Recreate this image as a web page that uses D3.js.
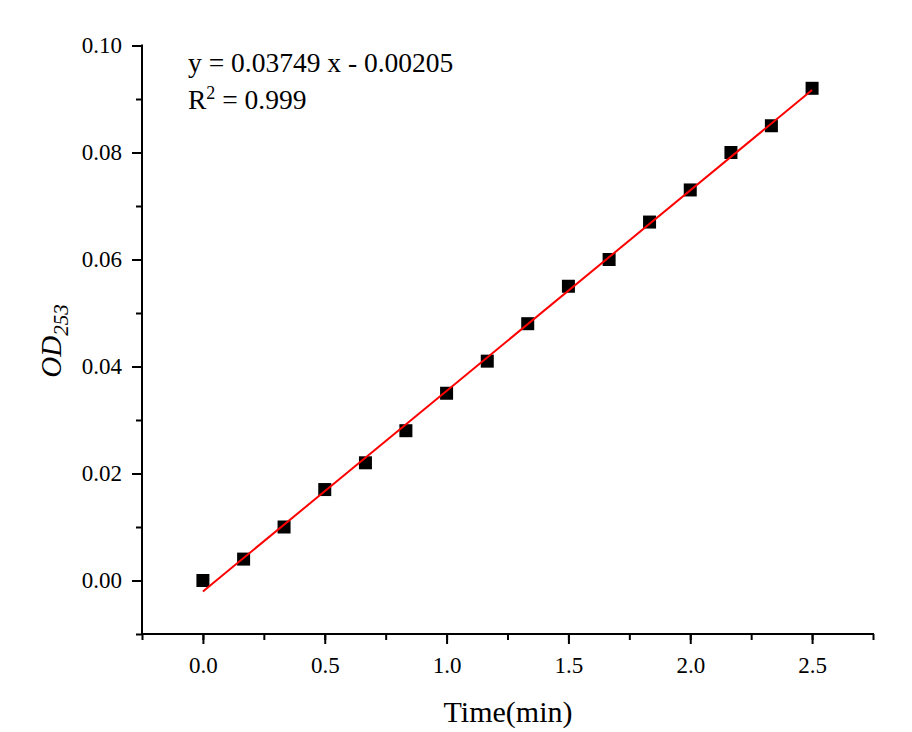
<!DOCTYPE html>
<html>
<head>
<meta charset="utf-8">
<script src="https://cdn.jsdelivr.net/npm/d3@7"></script>
<style>
  body { margin: 0; background: #fff; }
  text { font-family: "Liberation Serif", "Times New Roman", serif; fill: #000; }
</style>
</head>
<body>
<svg id="chart" width="912" height="732"></svg>
<script>
// data
var times = [0, 0.167, 0.333, 0.5, 0.667, 0.833, 1, 1.167, 1.333, 1.5, 1.667, 1.833, 2, 2.167, 2.333, 2.5];
var od = [0, 0.004, 0.010, 0.017, 0.022, 0.028, 0.035, 0.041, 0.048, 0.055, 0.060, 0.067, 0.073, 0.080, 0.085, 0.092];
var fitSlope = 0.03749;
var fitIntercept = -0.00205;
var fitRange = [0, 2.5];
var xTicks = [0, 0.5, 1.0, 1.5, 2.0, 2.5];
var yTicks = [0, 0.02, 0.04, 0.06, 0.08, 0.10];

var svg = d3.select('#chart');
var mLeft = 142, mRight = 873, mTop = 45.5, mBottom = 634;

// scales
var x = d3.scaleLinear().domain([-0.25, 2.75]).range([mLeft, mRight]);
var y = d3.scaleLinear().domain([-0.01, 0.10]).range([mBottom, mTop]);

// x axis: minor + major ticks
var xMinor = d3.range(-0.25, 2.76, 0.25);
svg.append('g')
  .attr('transform', 'translate(0,' + mBottom + ')')
  .call(d3.axisBottom(x).tickValues(xMinor).tickSize(6).tickFormat(''))
  .call(function(g) { g.select('.domain').remove(); g.selectAll('line').attr('stroke-width', 2); });
var gx = svg.append('g')
  .attr('transform', 'translate(0,' + mBottom + ')')
  .call(d3.axisBottom(x).tickValues(xTicks).tickSize(10).tickSizeOuter(0).tickPadding(13).tickFormat(d3.format('.1f')));
gx.select('.domain').attr('stroke-width', 2).attr('d', 'M' + (mLeft - 1) + ',0H' + (mRight + 1));
gx.selectAll('line').attr('stroke-width', 2);
gx.selectAll('text').attr('font-size', 23).style('font-family', '"Liberation Serif", serif');

// y axis
var yMinor = d3.range(-0.01, 0.1001, 0.01);
svg.append('g')
  .attr('transform', 'translate(' + mLeft + ',0)')
  .call(d3.axisLeft(y).tickValues(yMinor).tickSize(6).tickFormat(''))
  .call(function(g) { g.select('.domain').remove(); g.selectAll('line').attr('stroke-width', 2); });
var gy = svg.append('g')
  .attr('transform', 'translate(' + mLeft + ',0)')
  .call(d3.axisLeft(y).tickValues(yTicks).tickSize(10).tickSizeOuter(0).tickPadding(10).tickFormat(d3.format('.2f')));
gy.select('.domain').attr('stroke-width', 2).attr('d', 'M0,' + (mTop - 1) + 'V' + (mBottom + 1));
gy.selectAll('line').attr('stroke-width', 2);
gy.selectAll('text').attr('font-size', 23).style('font-family', '"Liberation Serif", serif');

// markers
var pts = times.map(function(t, i) { return { t: t, v: od[i] }; });
var s = 13;
svg.append('g').selectAll('rect')
  .data(pts)
  .enter().append('rect')
    .attr('x', function(d) { return x(d.t) - s / 2; })
    .attr('y', function(d) { return y(d.v) - s / 2; })
    .attr('width', s)
    .attr('height', s)
    .attr('fill', '#000');

// fitted line
var fit = d3.line()
  .x(function(d) { return x(d); })
  .y(function(d) { return y(fitSlope * d + fitIntercept); });
svg.append('path')
  .attr('d', fit(fitRange))
  .attr('stroke', 'rgb(255, 0, 0)')
  .attr('stroke-width', 2)
  .attr('fill', 'none');

// equation
svg.append('text')
  .attr('x', 188).attr('y', 72)
  .attr('font-size', 27.5)
  .text('y = 0.03749 x - 0.00205');
var r2 = svg.append('text')
  .attr('x', 188).attr('y', 109)
  .attr('font-size', 27.5);
r2.append('tspan').text('R');
r2.append('tspan').attr('dy', -10).attr('font-size', 18).text('2');
r2.append('tspan').attr('dy', 10).text(' = 0.999');

// axis titles
svg.append('text')
  .attr('x', 508).attr('y', 722)
  .attr('text-anchor', 'middle')
  .attr('font-size', 30)
  .text('Time(min)');
var yl = svg.append('text')
  .attr('transform', 'translate(61,341) rotate(-90)')
  .attr('text-anchor', 'middle')
  .attr('font-size', 29)
  .attr('font-style', 'italic');
yl.append('tspan').text('OD');
yl.append('tspan').attr('dy', 7).attr('font-size', 21).text('253');
</script>
</body>
</html>
